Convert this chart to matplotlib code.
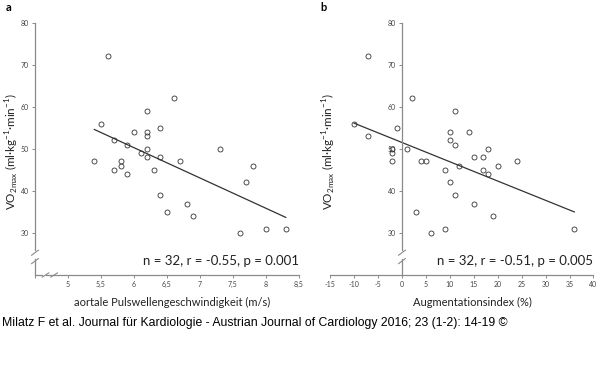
import numpy as np
import matplotlib
matplotlib.use('Agg')
import matplotlib.pyplot as plt

# Daten
# a) aortale PWV vs VO2max
pwv = [5.6, 5.5, 5.7, 5.9, 6.0, 6.2, 6.2, 6.2, 6.2, 6.2, 6.1, 6.4, 6.6, 7.3, 6.4, 5.4,
       5.7, 5.8, 5.8, 5.9, 6.3, 6.7, 6.4, 6.5, 6.8, 6.9, 7.6, 7.7, 7.8, 8.0, 8.3]
vo2_a = [72, 56, 52, 51, 54, 59, 54, 53, 50, 48, 49, 55, 62, 50, 48, 47,
         45, 47, 46, 44, 45, 47, 39, 35, 37, 34, 30, 42, 46, 31, 31]
fit_a_x = [5.4, 8.3]
fit_a_y = [54.6, 33.7]

# b) Augmentationsindex vs VO2max
aix = [-10, -7, -7, -1, 2, 1, -2, -2, -2, 4, 5, 10, 11, 10, 11, 14, 9,
       12, 10, 11, 15, 17, 18, 17, 18, 20, 24, 3, 15, 19, 9, 6, 36]
vo2_b = [56, 72, 53, 55, 62, 50, 50, 49, 47, 47, 47, 54, 59, 52, 51, 54, 45,
         46, 42, 39, 48, 48, 50, 45, 44, 46, 47, 35, 37, 34, 31, 30, 31]
fit_b_x = [-10, 36]
fit_b_y = [56.1, 35.0]

yticks = [30, 40, 50, 60, 70, 80]
xticks_a = [4.5, 5, 5.5, 6, 6.5, 7, 7.5, 8, 8.5]
xticklabels_a = ['', '5', '5,5', '6', '6,5', '7', '7,5', '8', '8,5']
xticks_b = [-15, -10, -5, 0, 5, 10, 15, 20, 25, 30, 35, 40]
xticklabels_b = ['-15', '-10', '-5', '0', '5', '10', '15', '20', '25', '30', '35', '40']

stats_a = 'n = 32, r = -0.55, p = 0.001'
stats_b = 'n = 32, r = -0.51, p = 0.005'
ylabel = 'VO$_{\\mathregular{2max}}$ (ml·kg$^{\\mathregular{-1}}$·min$^{\\mathregular{-1}}$)'
footer = 'Milatz F et al. Journal für Kardiologie - Austrian Journal of Cardiology 2016; 23 (1-2): 14-19 ©'

plt.rcParams['font.family'] = ['Lato', 'DejaVu Sans']

axis_col = '#8a8a8a'
tick_col = '#444444'
mark_col = '#333333'

fig = plt.figure(figsize=(6, 3.71), dpi=100)
ax_a = fig.add_axes([0.0583, 0.2588, 0.44, 0.68])
ax_b = fig.add_axes([0.5503, 0.2588, 0.4388, 0.68])


def style_axis(ax, x0):
    # Achsen wie im Original: nur links/unten, grau, y-Achse unterbrochen
    for s in ['top', 'right']:
        ax.spines[s].set_visible(False)
    for s in ['left', 'bottom']:
        ax.spines[s].set_color(axis_col)
        ax.spines[s].set_linewidth(0.9)
    ax.tick_params(axis='both', length=2.5, width=0.7, color=axis_col,
                   labelsize=5, labelcolor=tick_col, pad=2)
    ax.set_yticks(yticks)
    ax.set_ylim(20, 80)
    ax.spines['left'].set_position(('data', x0))
    ax.spines['left'].set_bounds(26.0, 80)
    ax.plot([x0, x0], [20, 23.8], color=axis_col, lw=0.9, clip_on=False)
    dx = 0.45 * (ax.get_xlim()[1] - ax.get_xlim()[0]) / 35.0
    for yc in [25.3, 23.3]:
        ax.plot([x0 - dx, x0 + dx], [yc - 0.6, yc + 0.6],
                color=axis_col, lw=0.8, clip_on=False)


# Panel a
ax_a.set_xlim(4.5, 8.5)
style_axis(ax_a, 4.5)
ax_a.set_xticks(xticks_a)
ax_a.set_xticklabels(xticklabels_a)
ax_a.spines['bottom'].set_bounds(4.66, 8.5)
ax_a.plot([4.5, 4.6], [20, 20], color=axis_col, lw=0.9, clip_on=False)
for xc in [4.66, 4.79]:
    ax_a.plot([xc - 0.05, xc + 0.05], [19.5, 20.5], color=axis_col, lw=0.8, clip_on=False)
ax_a.plot(pwv, vo2_a, 'o', ms=3.6, mfc='none', mec=mark_col, mew=0.6, clip_on=False)
ax_a.plot(fit_a_x, fit_a_y, color=mark_col, lw=0.9)
ax_a.text(1.0, 0.055, stats_a, transform=ax_a.transAxes, ha='right', va='center',
          fontsize=9.5, color='#222222')

# Panel b
ax_b.set_xlim(-15, 40)
style_axis(ax_b, 0)
ax_b.set_xticks(xticks_b)
ax_b.set_xticklabels(xticklabels_b)
ax_b.plot(aix, vo2_b, 'o', ms=3.6, mfc='none', mec=mark_col, mew=0.6, clip_on=False)
ax_b.plot(fit_b_x, fit_b_y, color=mark_col, lw=0.9)
ax_b.text(0.998, 0.055, stats_b, transform=ax_b.transAxes, ha='right', va='center',
          fontsize=9.5, color='#222222')

# Beschriftungen
fig.text(0.287, 0.186, 'aortale Pulswellengeschwindigkeit (m/s)', ha='center', va='center',
         fontsize=8, color='#222222')
fig.text(0.787, 0.186, 'Augmentationsindex (%)', ha='center', va='center',
         fontsize=8, color='#222222')
fig.text(0.02, 0.59, ylabel, rotation=90, ha='center', va='center', fontsize=8.4, color='#222222')
fig.text(0.548, 0.59, ylabel, rotation=90, ha='center', va='center', fontsize=8.4, color='#222222')
fig.text(0.009, 0.980, 'a', ha='left', va='center', fontsize=8, fontweight='bold')
fig.text(0.534, 0.980, 'b', ha='left', va='center', fontsize=8, fontweight='bold')
fig.text(0.003, 0.129, footer, ha='left', va='center', fontsize=8.8,
         family=['Liberation Sans', 'DejaVu Sans'])

fig.savefig('out.png', dpi=100)
